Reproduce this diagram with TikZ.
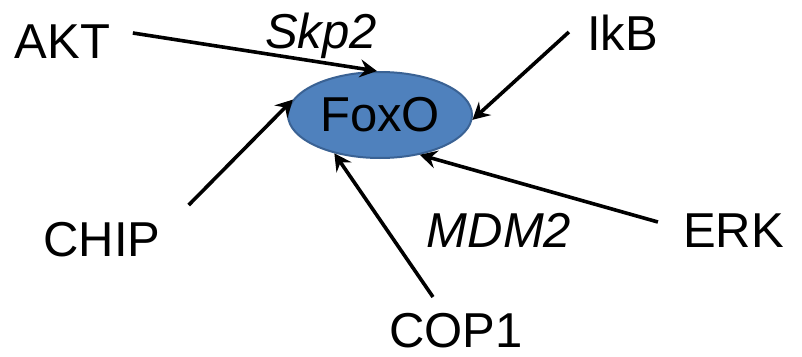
\documentclass[tikz,border=0pt]{standalone}
\usepackage{fontspec}
\setmainfont{Liberation Sans}
\usetikzlibrary{arrows.meta,shapes.geometric}
\definecolor{foxfill}{HTML}{4F81BD}
\definecolor{foxline}{HTML}{3A6294}
\tikzset{
  lbl/.style={inner sep=0pt, anchor=base, font=\fontsize{49}{58}\selectfont},
  ilbl/.style={lbl, font=\fontsize{49}{58}\selectfont\itshape},
  hub/.style={ellipse, fill=foxfill, draw=foxline, line width=2pt,
    minimum width=184pt, minimum height=86pt, inner sep=0pt,
    font=\fontsize{49}{58}\selectfont},
  arr/.style={line width=3.6pt, -{Stealth[length=17pt,width=18pt,inset=6pt]}}
}
\begin{document}
\begin{tikzpicture}[x=1pt,y=-1pt]
  \useasboundingbox (0,0) rectangle (802,356);

  % central protein
  \node[hub] (foxo) at (380,115) {\raisebox{-2.5pt}{FoxO}};

  % regulators
  \node[lbl]  (akt)  at (62.5,58)  {AKT};
  \node[ilbl] (skp2) at (321,48)   {Skp2};
  \node[lbl]  (ikb)  at (622.5,50) {IkB};
  \node[lbl]  (chip) at (102,256)  {CHIP};
  \node[ilbl] (mdm2) at (499,247)  {MDM2};
  \node[lbl]  (erk)  at (733.5,247){ERK};
  \node[lbl]  (cop1) at (456,347)  {COP1};

  % regulatory arrows onto FoxO
  \draw[arr] ([shift={(22.5,-25)}]akt.base east) -- (foxo.94);
  \draw[arr] ([shift={(-18,-18)}]ikb.base west) -- (foxo.-3);
  \draw[arr] ([shift={(28,-51)}]chip.base east) -- (foxo.170);
  \draw[arr] ([shift={(-23,-50)}]cop1.base) -- (foxo.220);
  \draw[arr] ([shift={(-25,-25)}]erk.base west) -- (foxo.-45);
\end{tikzpicture}
\end{document}
